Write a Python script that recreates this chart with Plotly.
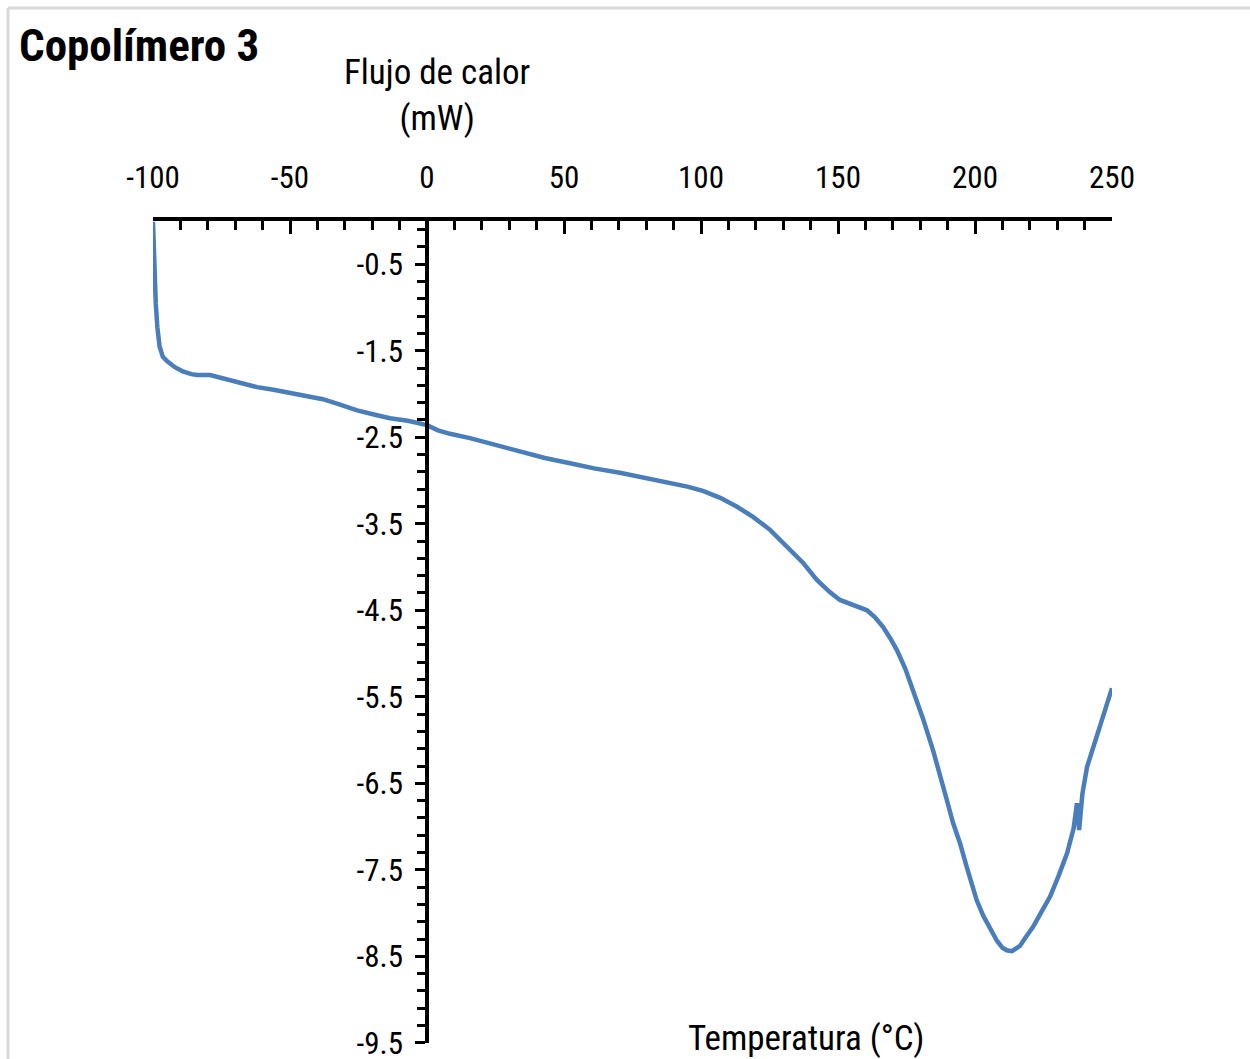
import plotly.graph_objects as go

title_text = "Copolímero 3"
y_title = "Flujo de calor<br>(mW)"
x_title = "Temperatura (°C)"

x_tick_values = [-100, -50, 0, 50, 100, 150, 200, 250]
x_tick_labels = ["-100", "-50", "0", "50", "100", "150", "200", "250"]
y_tick_values = [-0.5, -1.5, -2.5, -3.5, -4.5, -5.5, -6.5, -7.5, -8.5, -9.5]
y_tick_labels = ["-0.5", "-1.5", "-2.5", "-3.5", "-4.5", "-5.5", "-6.5", "-7.5", "-8.5", "-9.5"]

temperature = [
    -100, -99.8, -99.4, -99.0, -98.4, -97.6, -96.4, -94.9, -92, -89.1, -86, -83.9,
    -79.2, -74.5, -68, -62, -56, -50, -44, -38, -32, -25.5, -19, -13.5, -7, -1.5,
    0, 4, 8.4, 15.7, 25, 34, 43, 52.2, 61, 70.4, 80, 88.7, 95, 100.7, 107, 113,
    119, 125.2, 131, 137.2, 142.3, 147, 150.7, 155, 158, 160.6, 163.5, 166.4, 169,
    171.5, 174.5, 177.4, 181, 184.7, 187.5, 189.7, 192, 194.5, 197, 199, 200.6,
    203, 205.5, 208, 210, 211.6, 213.5, 216.4, 218.5, 221.2, 224, 227.4, 230.5,
    233.6, 236, 237.2, 238, 239.2, 240.9, 242.5, 244.5, 247, 250,
]
heat_flow = [
    -0.01, -0.3, -0.65, -0.95, -1.23, -1.45, -1.57, -1.62, -1.69, -1.74, -1.77, -1.78,
    -1.78, -1.82, -1.87, -1.92, -1.95, -1.99, -2.02, -2.06, -2.12, -2.19, -2.24, -2.28, -2.31, -2.34,
    -2.36, -2.42, -2.46, -2.51, -2.59, -2.67, -2.74, -2.80, -2.86, -2.91, -2.97, -3.02, -3.07, -3.12, -3.20, -3.30,
    -3.42, -3.57, -3.75, -3.95, -4.15, -4.29, -4.38, -4.43, -4.46, -4.50, -4.58, -4.69, -4.82,
    -4.96, -5.17, -5.42, -5.75, -6.12, -6.42, -6.69, -6.96, -7.19, -7.47, -7.70, -7.85,
    -8.03, -8.18, -8.32, -8.40, -8.43, -8.44, -8.38, -8.28, -8.16, -8.00, -7.81, -7.57,
    -7.31, -7.02, -6.73, -7.04, -6.62, -6.31, -6.15, -5.98, -5.72, -5.40,
]

x_range = [-100, 250]
y_range = [-9.502, 0]

W, H = 1250, 1059
L, R, T, B = 153, 1112, 221, 1043
pw, ph = R - L, B - T


def px(xp):
    return (xp - L) / pw


def py(yp):
    return (B - yp) / ph


font_family = "Roboto Condensed, Liberation Sans Narrow, Arial Narrow, Liberation Sans, Arial, sans-serif"

fig = go.Figure()
fig.add_trace(go.Scatter(
    x=temperature, y=heat_flow, mode="lines",
    line=dict(color="#4a7ebb", width=4.5),
    showlegend=False, hoverinfo="x+y",
))

yaxis_pos = (0 - x_range[0]) / (x_range[1] - x_range[0])

fig.update_layout(
    width=W, height=H,
    margin=dict(l=L, r=W - R, t=T, b=H - B, pad=0, autoexpand=False),
    paper_bgcolor="white", plot_bgcolor="white",
    font=dict(family=font_family, color="black"),
    xaxis=dict(
        range=x_range, side="top", showgrid=False, zeroline=False, automargin=False,
        showline=True, linecolor="black", linewidth=3.5,
        ticks="inside", ticklen=13, tickwidth=3, tickcolor="black",
        tickmode="array", tickvals=x_tick_values, ticktext=x_tick_labels,
        tickfont=dict(size=31, family=font_family),
        ticklabelstandoff=17, ticklabeloverflow="allow",
        minor=dict(ticks="inside", ticklen=9, tickwidth=3, tickcolor="black",
                   dtick=10, tick0=0, showgrid=False),
        domain=[0, 1],
    ),
    yaxis=dict(
        range=y_range, showgrid=False, zeroline=False, automargin=False,
        anchor="free", position=yaxis_pos,
        showline=True, linecolor="black", linewidth=3.5,
        ticks="outside", ticklen=10, tickwidth=3, tickcolor="black",
        tickmode="array", tickvals=y_tick_values, ticktext=y_tick_labels,
        tickfont=dict(size=31, family=font_family),
        ticklabelstandoff=6, ticklabeloverflow="allow",
        minor=dict(ticks="outside", ticklen=8, tickwidth=3, tickcolor="black",
                   dtick=0.2, tick0=-0.5, showgrid=False),
        domain=[0, 1],
    ),
    shapes=[
        dict(type="line", xref="paper", yref="paper",
             x0=px(8), x1=px(1260), y0=py(8), y1=py(8),
             line=dict(color="#d9d9d9", width=3)),
        dict(type="line", xref="paper", yref="paper",
             x0=px(8), x1=px(8), y0=py(8), y1=py(1070),
             line=dict(color="#d9d9d9", width=3)),
    ],
    annotations=[
        dict(text="<b>" + title_text + "</b>", xref="paper", yref="paper",
             x=px(17), y=py(45), xanchor="left", yanchor="middle",
             showarrow=False, font=dict(size=45, family=font_family, color="black")),
        dict(text=y_title, xref="paper", yref="paper",
             x=px(437), y=py(95), xanchor="center", yanchor="middle",
             showarrow=False, font=dict(size=35, family=font_family, color="black")),
        dict(text=x_title, xref="paper", yref="paper",
             x=px(806), y=py(1038), xanchor="center", yanchor="middle",
             showarrow=False, font=dict(size=35, family=font_family, color="black")),
    ],
)

fig.write_html("out.html")
